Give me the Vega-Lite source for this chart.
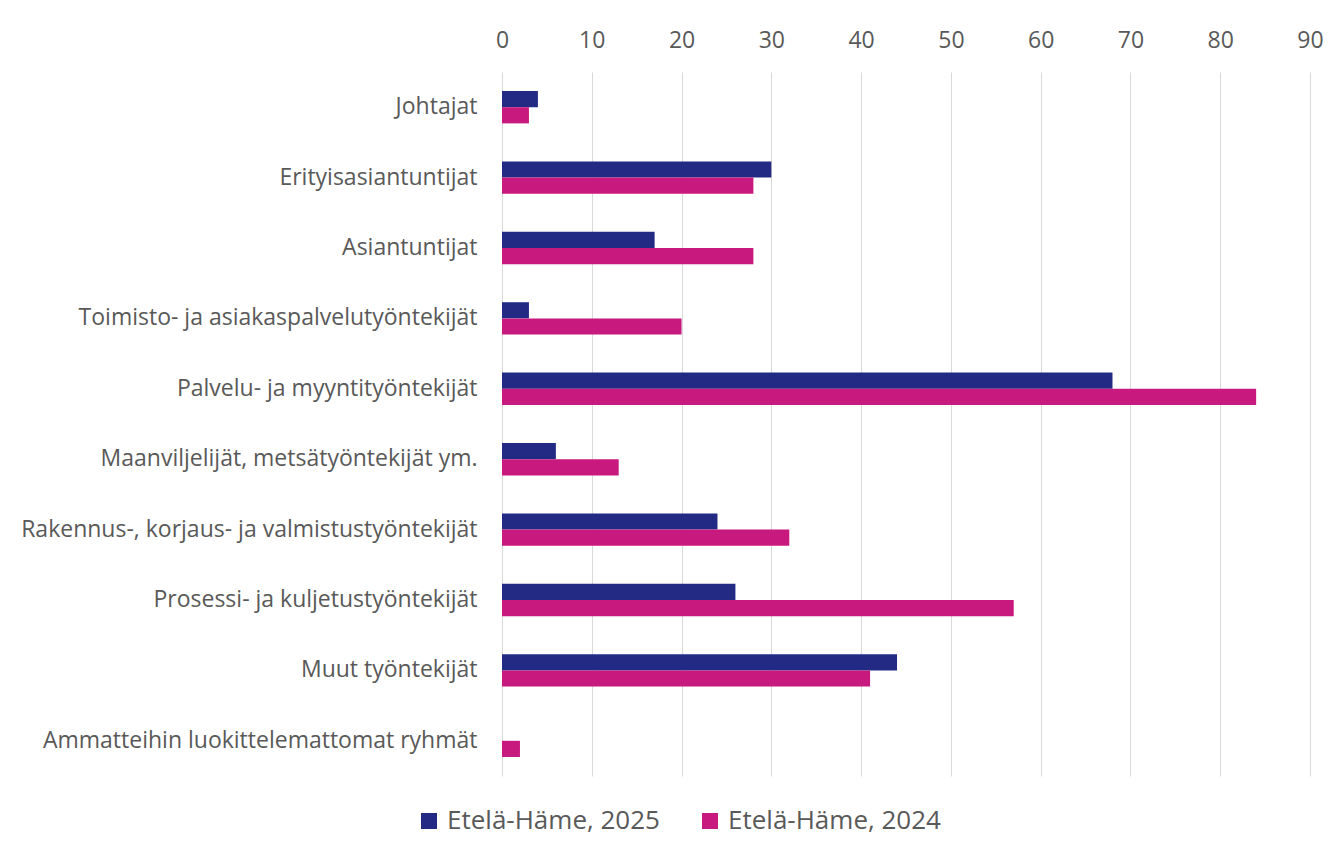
{
  "$schema": "https://vega.github.io/schema/vega-lite/v6.json",
  "width": 808,
  "height": 704,
  "autosize": {"type": "none"},
  "padding": {"left": 502, "top": 72, "right": 22, "bottom": 72},
  "background": "white",
  "data": {
    "values": [
      {"ammatti": "Johtajat", "sarja": "Etelä-Häme, 2025", "arvo": 4},
      {"ammatti": "Johtajat", "sarja": "Etelä-Häme, 2024", "arvo": 3},
      {"ammatti": "Erityisasiantuntijat", "sarja": "Etelä-Häme, 2025", "arvo": 30},
      {"ammatti": "Erityisasiantuntijat", "sarja": "Etelä-Häme, 2024", "arvo": 28},
      {"ammatti": "Asiantuntijat", "sarja": "Etelä-Häme, 2025", "arvo": 17},
      {"ammatti": "Asiantuntijat", "sarja": "Etelä-Häme, 2024", "arvo": 28},
      {"ammatti": "Toimisto- ja asiakaspalvelutyöntekijät", "sarja": "Etelä-Häme, 2025", "arvo": 3},
      {"ammatti": "Toimisto- ja asiakaspalvelutyöntekijät", "sarja": "Etelä-Häme, 2024", "arvo": 20},
      {"ammatti": "Palvelu- ja myyntityöntekijät", "sarja": "Etelä-Häme, 2025", "arvo": 68},
      {"ammatti": "Palvelu- ja myyntityöntekijät", "sarja": "Etelä-Häme, 2024", "arvo": 84},
      {"ammatti": "Maanviljelijät, metsätyöntekijät ym.", "sarja": "Etelä-Häme, 2025", "arvo": 6},
      {"ammatti": "Maanviljelijät, metsätyöntekijät ym.", "sarja": "Etelä-Häme, 2024", "arvo": 13},
      {"ammatti": "Rakennus-, korjaus- ja valmistustyöntekijät", "sarja": "Etelä-Häme, 2025", "arvo": 24},
      {"ammatti": "Rakennus-, korjaus- ja valmistustyöntekijät", "sarja": "Etelä-Häme, 2024", "arvo": 32},
      {"ammatti": "Prosessi- ja kuljetustyöntekijät", "sarja": "Etelä-Häme, 2025", "arvo": 26},
      {"ammatti": "Prosessi- ja kuljetustyöntekijät", "sarja": "Etelä-Häme, 2024", "arvo": 57},
      {"ammatti": "Muut työntekijät", "sarja": "Etelä-Häme, 2025", "arvo": 44},
      {"ammatti": "Muut työntekijät", "sarja": "Etelä-Häme, 2024", "arvo": 41},
      {"ammatti": "Ammatteihin luokittelemattomat ryhmät", "sarja": "Etelä-Häme, 2025", "arvo": 0},
      {"ammatti": "Ammatteihin luokittelemattomat ryhmät", "sarja": "Etelä-Häme, 2024", "arvo": 2}
    ]
  },
  "mark": {"type": "bar", "stroke": null},
  "encoding": {
    "y": {
      "field": "ammatti",
      "type": "nominal",
      "sort": null,
      "scale": {"paddingInner": 0.54, "paddingOuter": 0.27},
      "axis": {
        "title": null,
        "domain": false,
        "ticks": false,
        "labelPadding": 25,
        "labelFontSize": 23,
        "labelLimit": 600
      }
    },
    "yOffset": {
      "field": "sarja",
      "type": "nominal",
      "scale": {"domain": ["Etelä-Häme, 2025", "Etelä-Häme, 2024"], "paddingInner": 0, "paddingOuter": 0}
    },
    "x": {
      "field": "arvo",
      "type": "quantitative",
      "scale": {"domain": [0, 90], "nice": false},
      "axis": {
        "orient": "top",
        "title": null,
        "values": [0, 10, 20, 30, 40, 50, 60, 70, 80, 90],
        "domain": false,
        "ticks": false,
        "grid": true,
        "gridColor": "#D9D9D9",
        "gridWidth": 1,
        "labelPadding": 20,
        "labelFontSize": 23,
        "labelFlush": false
      }
    },
    "color": {
      "field": "sarja",
      "type": "nominal",
      "scale": {"domain": ["Etelä-Häme, 2025", "Etelä-Häme, 2024"], "range": ["#232A84", "#C8197F"]},
      "legend": {
        "title": null,
        "orient": "none",
        "direction": "horizontal",
        "legendX": -86,
        "legendY": 736,
        "symbolType": "square",
        "symbolSize": 256,
        "symbolStrokeWidth": 0,
        "labelFontSize": 26,
        "labelLimit": 400,
        "columnPadding": 37,
        "symbolOffset": 0,
        "labelOffset": 5
      }
    }
  },
  "config": {
    "view": {"stroke": null},
    "font": "Open Sans",
    "axis": {"labelColor": "#595959", "labelFont": "Open Sans"},
    "legend": {"labelColor": "#595959", "labelFont": "Open Sans"}
  }
}
